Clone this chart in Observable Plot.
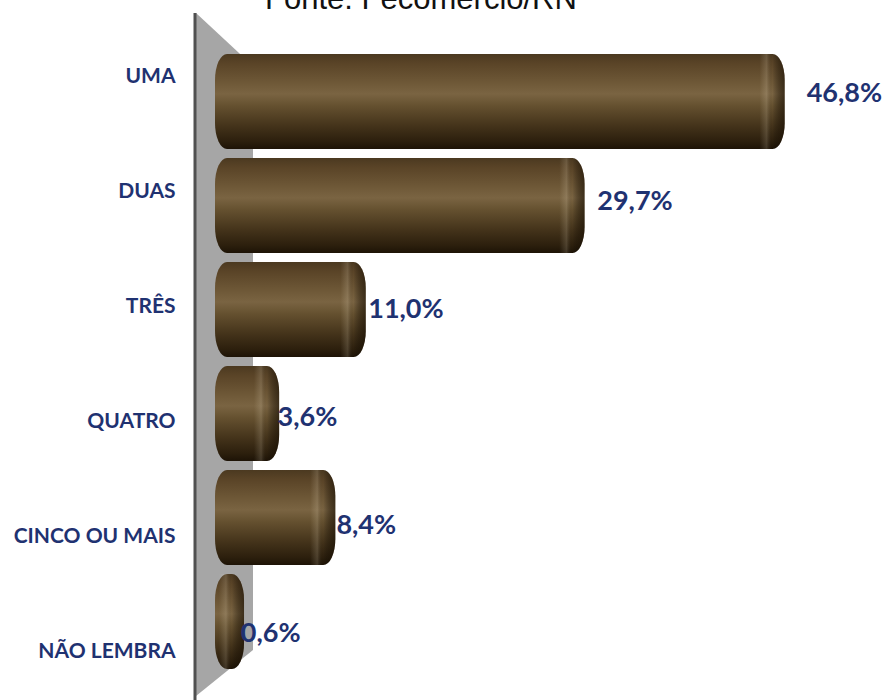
<!DOCTYPE html>
<html>
<head>
<meta charset="utf-8">
<script src="https://cdn.jsdelivr.net/npm/d3@7"></script>
<script src="https://cdn.jsdelivr.net/npm/@observablehq/plot@0.6"></script>
<style>
  html, body { margin: 0; padding: 0; background: #fff; }
  #chart { position: relative; width: 887px; height: 700px; overflow: hidden; }
  #chart > svg { position: absolute; left: 0; top: 0; }
  #fonte {
    position: absolute; left: 0; top: -17px; width: 842px; text-align: center;
    font: 31px/31px "Liberation Sans", Arial, sans-serif; color: #111;
  }
</style>
</head>
<body>
<div id="chart"><div id="fonte">Fonte: Fecomércio/RN</div></div>
<script>
// Quantidade de cartões — distribuição das respostas
const categorias = ["UMA", "DUAS", "TRÊS", "QUATRO", "CINCO OU MAIS", "NÃO LEMBRA"];
const percentuais = [46.8, 29.7, 11.0, 3.6, 8.4, 0.6];
const rotulos = ["46,8%", "29,7%", "11,0%", "3,6%", "8,4%", "0,6%"];

const dados = categorias.map((c, i) => ({categoria: c, valor: percentuais[i], rotulo: rotulos[i]}));

const W = 887, H = 700;
const azul = "#1f3271";
const chart = document.getElementById("chart");

// Gradients: cylinder body shading and the lit/darkened end cap
function gradientes() {
  const defs = d3.create("svg:defs");
  const corpo = defs.append("linearGradient").attr("id", "corpo")
    .attr("x1", 0).attr("y1", 0).attr("x2", 0).attr("y2", 1);
  [[0, "#4b3920"], [0.1, "#5a4427"], [0.3, "#6e5837"], [0.42, "#7a6442"],
   [0.55, "#64502f"], [0.75, "#45341b"], [0.92, "#2c1f0d"], [1, "#1d1306"]]
    .forEach(([o, c]) => corpo.append("stop").attr("offset", o).attr("stop-color", c));
  const tampa = defs.append("linearGradient").attr("id", "tampa")
    .attr("x1", 0).attr("y1", 0).attr("x2", 1).attr("y2", 0);
  [[0, "#fff3da", 0], [0.3, "#fff3da", 0], [0.5, "#fff3da", 0.16], [0.66, "#000", 0],
   [0.85, "#140c02", 0.4], [1, "#140c02", 0.6]]
    .forEach(([o, c, a]) => tampa.append("stop").attr("offset", o)
      .attr("stop-color", c).attr("stop-opacity", a));
  return defs.node();
}

// Cylinder bars
const barras = Plot.plot({
  width: W, height: H,
  marginLeft: 227, marginRight: 0, marginTop: 52, marginBottom: 29,
  style: {background: "transparent"},
  x: {domain: [0, 56.4], axis: null},
  y: {domain: categorias, axis: null, paddingInner: 0.083, paddingOuter: 0},
  marks: [
    gradientes,
    Plot.barX(dados, {x: "valor", y: "categoria", fill: "url(#corpo)",
      insetLeft: -12, insetRight: -10, rx: 12, ry: 26}),
    Plot.barX(dados, {x1: "valor", x2: "valor", y: "categoria", fill: "url(#tampa)",
      insetLeft: -26, insetRight: -10, rx: 12, ry: 26})
  ]
});

// Side wall behind the bars, placed from the x scale origin
const x0 = barras.scale("x").apply(0);
const parede = d3.select(barras).insert("g", ":first-child");
parede.append("path")
  .attr("d", `M${x0 - 31},13 L${x0 + 26},66 L${x0 + 26},650 L${x0 - 31},696 Z`)
  .attr("fill", "#a6a6a6");
parede.append("line")
  .attr("x1", x0 - 32).attr("x2", x0 - 32).attr("y1", 13).attr("y2", H)
  .attr("stroke", "#505050").attr("stroke-width", 3);
chart.appendChild(barras);

// Category axis
const eixo = Plot.plot({
  width: W, height: H,
  marginLeft: 175, marginRight: 0, marginTop: 73.5, marginBottom: 47.5,
  style: {background: "transparent", fontFamily: "Lato", fontSize: "21px", fontWeight: "bold", color: azul},
  x: {domain: [0, 1], axis: null},
  y: {type: "point", domain: categorias, padding: 0},
  marks: [
    Plot.axisY({anchor: "left", tickSize: 0, tickPadding: 0, label: null,
      fontSize: 21, fontWeight: "bold", fill: azul})
  ]
});
chart.appendChild(eixo);

// Value labels
const valores = Plot.plot({
  width: W, height: H,
  marginLeft: 233, marginRight: 0, marginTop: 92, marginBottom: 66,
  style: {background: "transparent"},
  x: {domain: [0, 53.4], axis: null},
  y: {type: "point", domain: categorias, axis: null, padding: 0},
  marks: [
    Plot.text(dados, {x: "valor", y: "categoria", text: "rotulo", textAnchor: "start",
      fontFamily: "Lato", fontSize: 27, fontWeight: "bold", fill: azul})
  ]
});
chart.appendChild(valores);
</script>
</body>
</html>
